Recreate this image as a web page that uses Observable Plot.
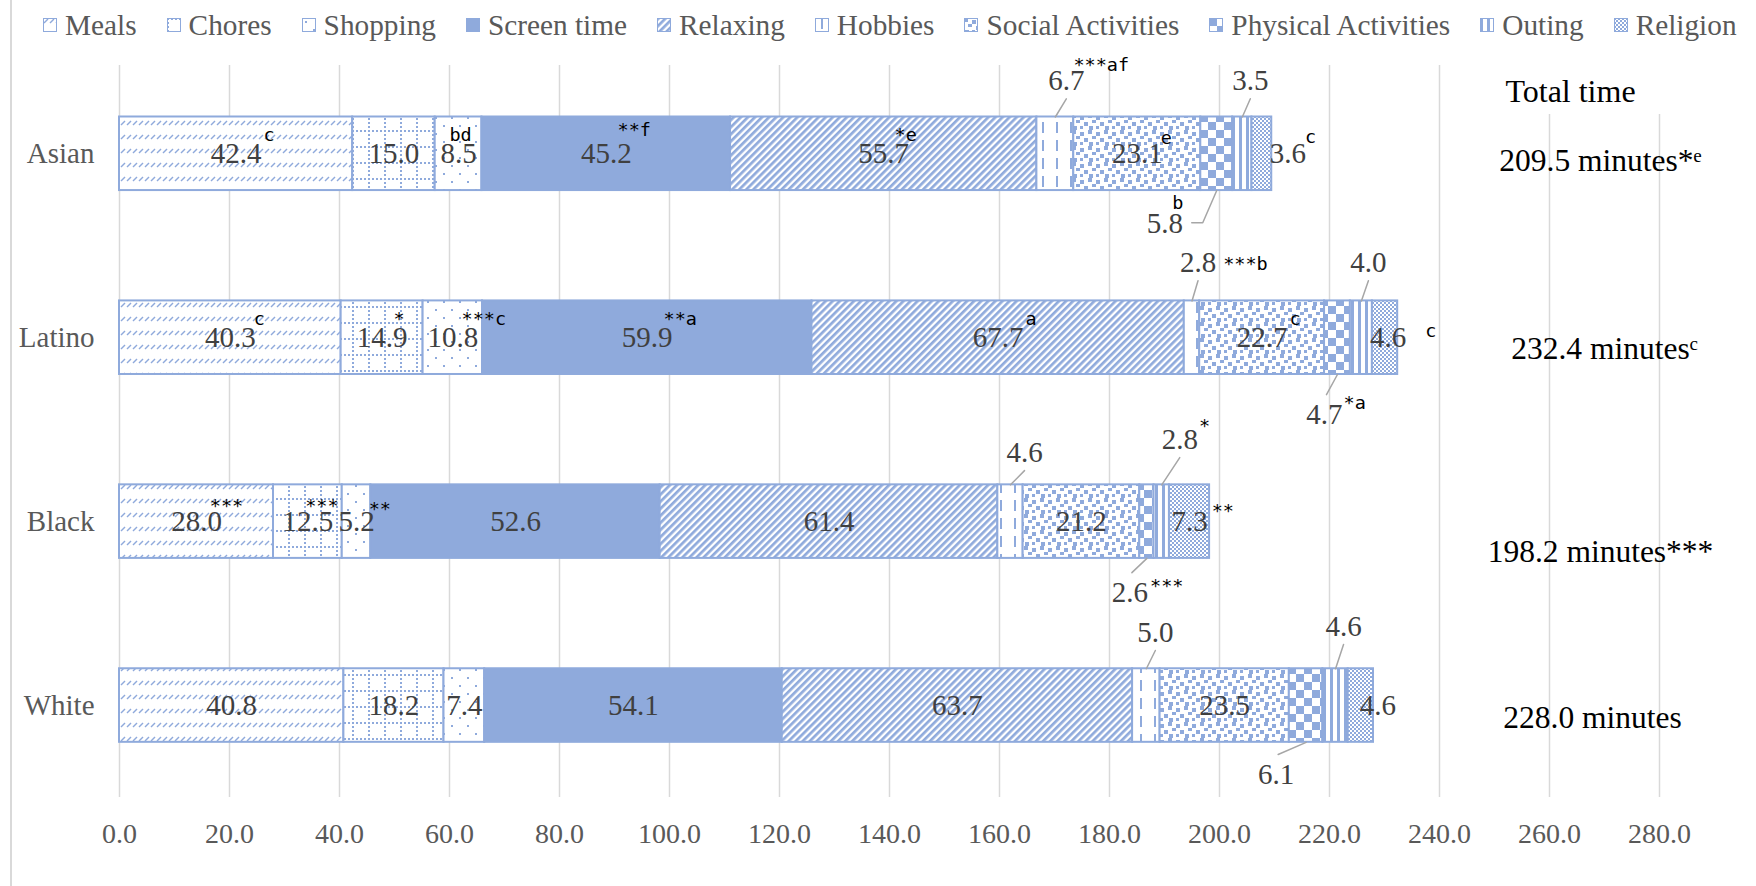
<!DOCTYPE html>
<html>
<head>
<meta charset="utf-8">
<script src="https://cdn.jsdelivr.net/npm/d3@7"></script>
<script src="https://cdn.jsdelivr.net/npm/@observablehq/plot@0.6"></script>
<style>
  html, body { margin: 0; padding: 0; background: #fff; }
  body { width: 1756px; height: 886px; overflow: hidden; position: relative;
         font-family: "Liberation Serif", "Times New Roman", serif; }
  #frameline { position: absolute; left: 10px; top: 0; width: 2px; height: 886px; background: #D9D9D9; }
  #legend { height: 50px; display: flex; align-items: center; padding-left: 43px;
            font-size: 29.3px; color: #595959; white-space: nowrap; }
  .item { display: flex; align-items: center; margin-right: 30px; }
  .item svg { margin-right: 8px; display: block; }
  #chart svg { display: block; }
</style>
</head>
<body>
<svg width="0" height="0" style="position:absolute">
  <defs>
    <!-- Meals: dashed upward diagonal -->
    <pattern id="p0" patternUnits="userSpaceOnUse" width="6" height="14">
      <rect width="6" height="14" fill="#fff"/>
      <path d="M1,5 L5,1" stroke="#8FAADC" stroke-width="1.4"/>
    </pattern>
    <!-- Chores: dotted grid -->
    <pattern id="p1" patternUnits="userSpaceOnUse" width="16" height="16">
      <rect width="16" height="16" fill="#fff"/>
      <g fill="#8FAADC">
        <rect x="0" y="0" width="2" height="2"/><rect x="4" y="0" width="2" height="2"/>
        <rect x="8" y="0" width="2" height="2"/><rect x="12" y="0" width="2" height="2"/>
        <rect x="0" y="4" width="2" height="2"/><rect x="0" y="8" width="2" height="2"/>
        <rect x="0" y="12" width="2" height="2"/>
      </g>
    </pattern>
    <!-- Shopping: sparse dots -->
    <pattern id="p2" patternUnits="userSpaceOnUse" width="16" height="16">
      <rect width="16" height="16" fill="#fff"/>
      <g fill="#8FAADC"><rect x="3" y="3" width="2" height="2"/><rect x="11" y="11" width="2" height="2"/></g>
    </pattern>
    <!-- Relaxing: wide upward diagonal -->
    <pattern id="p4" patternUnits="userSpaceOnUse" width="5" height="5" patternTransform="rotate(45)">
      <rect width="5" height="5" fill="#fff"/>
      <rect width="2.7" height="5" fill="#8FAADC"/>
    </pattern>
    <!-- Hobbies: dashed vertical -->
    <pattern id="p5" patternUnits="userSpaceOnUse" width="14" height="18">
      <rect width="14" height="18" fill="#fff"/>
      <rect x="6" y="0" width="2" height="11" fill="#8FAADC"/>
    </pattern>
    <!-- Social: large confetti -->
    <pattern id="p6" patternUnits="userSpaceOnUse" width="16" height="16">
      <rect width="16" height="16" fill="#fff"/>
      <g fill="#8FAADC">
        <rect x="0" y="0" width="4" height="4"/><rect x="8" y="2" width="4" height="4"/>
        <rect x="4" y="6" width="4" height="3"/><rect x="12" y="8" width="4" height="4"/>
        <rect x="1" y="12" width="4" height="4"/><rect x="8" y="12" width="3" height="3"/>
      </g>
    </pattern>
    <!-- Physical: large checker board -->
    <pattern id="p7" patternUnits="userSpaceOnUse" width="16" height="16">
      <rect width="16" height="16" fill="#fff"/>
      <g fill="#8FAADC"><rect x="0" y="0" width="8" height="8"/><rect x="8" y="8" width="8" height="8"/></g>
    </pattern>
    <!-- Outing: vertical stripes -->
    <pattern id="p8" patternUnits="userSpaceOnUse" width="7" height="7">
      <rect width="7" height="7" fill="#fff"/>
      <rect x="0" y="0" width="3" height="7" fill="#8FAADC"/>
    </pattern>
    <!-- Religion: small checker board -->
    <pattern id="p9" patternUnits="userSpaceOnUse" width="4" height="4">
      <rect width="4" height="4" fill="#fff"/>
      <g fill="#8FAADC"><rect x="0" y="0" width="2" height="2"/><rect x="2" y="2" width="2" height="2"/></g>
    </pattern>
  </defs>
</svg>
<div id="frameline"></div>
<div id="legend"></div>
<div id="chart"></div>
<script>
// ---------------- data ----------------
const races = ["Asian", "Latino", "Black", "White"];
const categories = ["Meals", "Chores", "Shopping", "Screen time", "Relaxing", "Hobbies",
                    "Social Activities", "Physical Activities", "Outing", "Religion"];
const asian  = [42.4, 15.0, 8.5, 45.2, 55.7, 6.7, 23.1, 5.8, 3.5, 3.6];
const latino = [40.3, 14.9, 10.8, 59.9, 67.7, 2.8, 22.7, 4.7, 4.0, 4.6];
const black  = [28.0, 12.5, 5.2, 52.6, 61.4, 4.6, 21.2, 2.6, 2.8, 7.3];
const white  = [40.8, 18.2, 7.4, 54.1, 63.7, 5.0, 23.5, 6.1, 4.6, 4.6];
const asianNotes  = ["c", "", "bd", "**f", "*e", "***af", "e", "b", "", "c"];
const latinoNotes = ["c", "*", "***c", "**a", "a", "***b", "c", "*a", "", "c"];
const blackNotes  = ["***", "***", "**", "", "", "", "", "***", "*", "**"];
const whiteNotes  = ["", "", "", "", "", "", "", "", "", ""];
const totalNotes  = ["*\u1D49", "\u1D9C", "***", ""];
const totalHeader = "Total time";
const xTicks = [0, 20, 40, 60, 80, 100, 120, 140, 160, 180, 200, 220, 240, 260, 280];
const xTicksUnderHeader = [260, 280];

// ---------------- layout (px) ----------------
const W = 1756, H = 836, ML = 119, MR = 97, MT = 15, MB = 89;
const X_MAX = 280;
const Y_DOMAIN = [-0.48, 3.5];
const kx = (W - ML - MR) / X_MAX;                              // px per minute
const ky = (H - MT - MB) / (Y_DOMAIN[1] - Y_DOMAIN[0]);         // px per row
const BAR_HALF = 0.2;
const BLUE = "#8FAADC";
const NOTE_FONT = '"DejaVu Sans Mono", "Liberation Mono", monospace';

const fills = categories.map((c, i) => c === "Screen time" ? BLUE : `url(#p${i})`);
const leaderCats = new Set(["Hobbies", "Outing", "Physical Activities"]);
// label nudges for outside (leader) labels, px [dx, dy] from segment middle
const leaderNudge = {
  "Asian|Hobbies": [11, -73], "Asian|Outing": [8, -73], "Asian|Physical Activities": [-52, 70],
  "Latino|Hobbies": [6, -75], "Latino|Outing": [7, -75], "Latino|Physical Activities": [-13, 77],
  "Black|Hobbies": [14, -69], "Black|Outing": [18, -82], "Black|Physical Activities": [-17, 71],
  "White|Hobbies": [9, -73], "White|Outing": [8, -79], "White|Physical Activities": [-30, 69]
};
const elbowLeaders = new Set(["Asian|Physical Activities"]);
// inside label nudges, px
const labelNudge = {"Asian|Religion": 26, "White|Religion": 17, "Latino|Religion": 3};
// note placements: start-anchored {gap, dy} after the label, or middle-anchored {dx, dy}
const noteDefault = {anchor: "start", gap: 2, dy: -19};
const notePlace = {
  "Asian|Shopping": {anchor: "middle", dx: 2, dy: -19},
  "Asian|Screen time": {anchor: "middle", dx: 28, dy: -24},
  "Asian|Relaxing": {anchor: "middle", dx: 22, dy: -19},
  "Asian|Hobbies": {anchor: "start", gap: -11, dy: -16},
  "Asian|Social Activities": {anchor: "start", gap: -2, dy: -16},
  "Asian|Religion": {anchor: "start", gap: -1, dy: -17},
  "Asian|Physical Activities": {anchor: "middle", dx: 13, dy: -21},
  "Latino|Meals": {anchor: "start", gap: -2, dy: -19},
  "Latino|Chores": {anchor: "middle", dx: 17, dy: -19},
  "Latino|Shopping": {anchor: "middle", dx: 31, dy: -19},
  "Latino|Screen time": {anchor: "middle", dx: 33, dy: -19},
  "Latino|Hobbies": {anchor: "start", gap: 7, dy: 1},
  "Latino|Physical Activities": {anchor: "start", gap: 1, dy: -12},
  "Latino|Religion": {anchor: "start", gap: 19, dy: -7},
  "Black|Meals": {anchor: "middle", dx: 30, dy: -16},
  "Black|Chores": {anchor: "middle", dx: 14, dy: -16},
  "Black|Shopping": {anchor: "start", gap: -6, dy: -13},
  "Black|Physical Activities": {anchor: "start", gap: 2, dy: -7},
  "Black|Outing": {anchor: "start", gap: 1, dy: -14},
  "Black|Religion": {anchor: "start", gap: 4, dy: -11}
};
const totalNudge = [[0, 7], [4, 11], [0, 30], [-8, 12]];

// ---------------- build tables ----------------
const valuesByRace = {Asian: asian, Latino: latino, Black: black, White: white};
const notesByRace = {Asian: asianNotes, Latino: latinoNotes, Black: blackNotes, White: whiteNotes};
const canvas = document.createElement("canvas");
const ctx = canvas.getContext("2d");
ctx.font = '29px "Liberation Serif"';
const fmt = d3.format(".1f");

const segments = [];
races.forEach((race, ri) => {
  const vals = valuesByRace[race];
  const starts = [0, ...d3.cumsum(vals)];
  categories.forEach((category, ci) => {
    const value = vals[ci];
    const key = race + "|" + category;
    const x1 = starts[ci], x2 = starts[ci] + value, mid = (x1 + x2) / 2;
    const label = fmt(value);
    const outside = leaderCats.has(category);
    let lx, ly;
    if (outside) {
      const [ndx, ndy] = leaderNudge[key];
      lx = mid + ndx / kx; ly = ri + ndy / ky;
    } else {
      lx = mid + (labelNudge[key] || 0) / kx; ly = ri;
    }
    segments.push({race, ri, category, value, x1, x2, mid, label, outside, lx, ly, key,
                   note: notesByRace[race][ci], w: ctx.measureText(label).width});
  });
});

const insideLabels = segments.filter(d => !d.outside);
const outsideLabels = segments.filter(d => d.outside);

// leader line points
const leaderPts = [];
outsideLabels.forEach(d => {
  const above = d.ly < d.ri;
  const barY = d.ri + (above ? -BAR_HALF : BAR_HALF);
  leaderPts.push({key: d.key, x: d.mid, y: barY});
  if (elbowLeaders.has(d.key)) {
    leaderPts.push({key: d.key, x: d.lx + 38 / kx, y: d.ly - 1 / ky});
    leaderPts.push({key: d.key, x: d.lx + 27 / kx, y: d.ly - 1 / ky});
  } else if (above) {
    leaderPts.push({key: d.key, x: d.lx, y: d.ly + 18 / ky});
  } else {
    leaderPts.push({key: d.key, x: d.lx + 2 / kx, y: d.ly - 20 / ky});
  }
});

// notes
const notes = segments.filter(d => d.note).map(d => {
  const p = notePlace[d.key] || noteDefault;
  const dxPx = p.anchor === "start" ? d.w / 2 + p.gap : p.dx;
  return {text: d.note, anchor: p.anchor, x: d.lx + dxPx / kx, y: d.ly + p.dy / ky};
});

const totals = races.map((race, ri) => ({
  ri, text: fmt(d3.sum(valuesByRace[race])) + " minutes" + totalNotes[ri],
  y: ri + totalNudge[ri][1] / ky, dx: totalNudge[ri][0]
}));

// ---------------- legend ----------------
const legend = document.getElementById("legend");
categories.forEach((c, i) => {
  const item = document.createElement("div");
  item.className = "item";
  item.innerHTML = `<svg width="14" height="14"><rect x="0.5" y="0.5" width="13" height="13" fill="${fills[i]}" stroke="${BLUE}" stroke-width="1"/></svg><span>${c}</span>`;
  legend.appendChild(item);
});

// ---------------- plot ----------------
const textCommon = {fontSize: 29, fill: "#404040"};
const noteCommon = {fontSize: 18.5, fill: "#000", fontFamily: NOTE_FONT};
const chart = Plot.plot({
  width: W, height: H,
  marginLeft: ML, marginRight: MR, marginTop: MT, marginBottom: MB,
  style: {fontFamily: '"Liberation Serif", "Times New Roman", serif', background: "#fff", overflow: "visible"},
  x: {domain: [0, X_MAX], label: null},
  y: {domain: Y_DOMAIN, reverse: true, label: null},
  color: {type: "ordinal", domain: categories, range: fills},
  marks: [
    Plot.gridX({ticks: xTicks.filter(t => !xTicksUnderHeader.includes(t)), stroke: "#D9D9D9", strokeOpacity: 1, strokeWidth: 1.5}),
    Plot.gridX({ticks: xTicksUnderHeader, stroke: "#D9D9D9", strokeOpacity: 1, strokeWidth: 1.5, insetTop: 49}),
    Plot.axisX({ticks: xTicks, tickSize: 0, tickPadding: 26, tickFormat: fmt,
                fontSize: 28, color: "#595959", label: null}),
    Plot.axisY({ticks: [0, 1, 2, 3], tickSize: 0, tickPadding: 25, tickFormat: i => races[i],
                fontSize: 29, color: "#595959", label: null}),
    Plot.rect(segments, {x1: "x1", x2: "x2", y1: d => d.ri - BAR_HALF, y2: d => d.ri + BAR_HALF,
                         fill: "category", stroke: BLUE, strokeWidth: 2}),
    Plot.line(leaderPts, {x: "x", y: "y", z: "key", stroke: "#A6A6A6", strokeWidth: 1.5}),
    Plot.text(insideLabels, {x: "lx", y: "ly", text: "label", ...textCommon}),
    Plot.text(outsideLabels, {x: "lx", y: "ly", text: "label", ...textCommon}),
    Plot.text(notes.filter(d => d.anchor === "start"), {x: "x", y: "y", text: "text", textAnchor: "start", ...noteCommon}),
    Plot.text(notes.filter(d => d.anchor === "middle"), {x: "x", y: "y", text: "text", textAnchor: "middle", ...noteCommon}),
    ...totals.map(t => Plot.text([t], {frameAnchor: "right", y: "y", text: "text", dx: -59 + t.dx,
              textAnchor: "middle", fontSize: 31.5, fill: "#000"})),
    Plot.text([totalHeader], {frameAnchor: "top-right", text: d => d, dx: -89, dy: 26,
              textAnchor: "middle", lineAnchor: "middle", fontSize: 32, fill: "#000"})
  ]
});
document.getElementById("chart").appendChild(chart);
</script>
</body>
</html>
